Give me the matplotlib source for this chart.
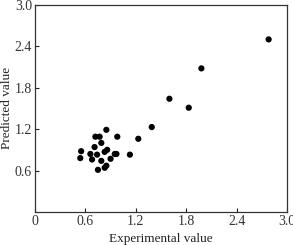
import matplotlib
matplotlib.use("Agg")
import matplotlib.pyplot as plt

# experimental vs predicted values
experimental = [2.78, 1.98, 1.60, 1.83, 1.39, 1.23, 1.13, 0.98, 0.85, 0.72,
                0.77, 0.79, 0.71, 0.55, 0.54, 0.66, 0.68, 0.74, 0.79, 0.83,
                0.86, 0.90, 0.95, 0.97, 0.75, 0.83, 0.85]
predicted = [2.50, 2.08, 1.64, 1.51, 1.23, 1.06, 0.83, 1.09, 1.19, 1.09,
             1.09, 1.00, 0.94, 0.88, 0.78, 0.84, 0.76, 0.83, 0.74, 0.87,
             0.90, 0.77, 0.84, 0.84, 0.61, 0.64, 0.67]

x_ticks = [0, 0.6, 1.2, 1.8, 2.4, 3.0]
x_tick_labels = ["0", "0.6", "1.2", "1.8", "2.4", "3.0"]
y_ticks = [0.6, 1.2, 1.8, 2.4, 3.0]
y_tick_labels = ["0.6", "1.2", "1.8", "2.4", "3.0"]

plt.rcParams['font.family'] = ['Liberation Serif', 'DejaVu Serif']

fig = plt.figure(figsize=(2.93, 2.45), dpi=100)
ax = fig.add_axes([0.119, 0.135, 0.861, 0.845])

ax.scatter(experimental, predicted, s=20, color="black", edgecolors="none")

ax.set_xlim(0, 3.0)
ax.set_ylim(0, 3.0)
ax.set_xticks(x_ticks)
ax.set_xticklabels(x_tick_labels)
ax.set_yticks(y_ticks)
ax.set_yticklabels(y_tick_labels)
ax.tick_params(direction="in", length=3, width=0.8, labelsize=10, pad=2,
               colors="#222222", labelcolor="#333333")

for side in ax.spines.values():
    side.set_linewidth(0.9)
    side.set_color("#333333")

ax.set_xlabel("Experimental value", fontsize=9.5, labelpad=4, color="#222222")
ax.set_ylabel("Predicted value", fontsize=9.5, labelpad=1, color="#222222")

fig.savefig("out.png", dpi=100)
